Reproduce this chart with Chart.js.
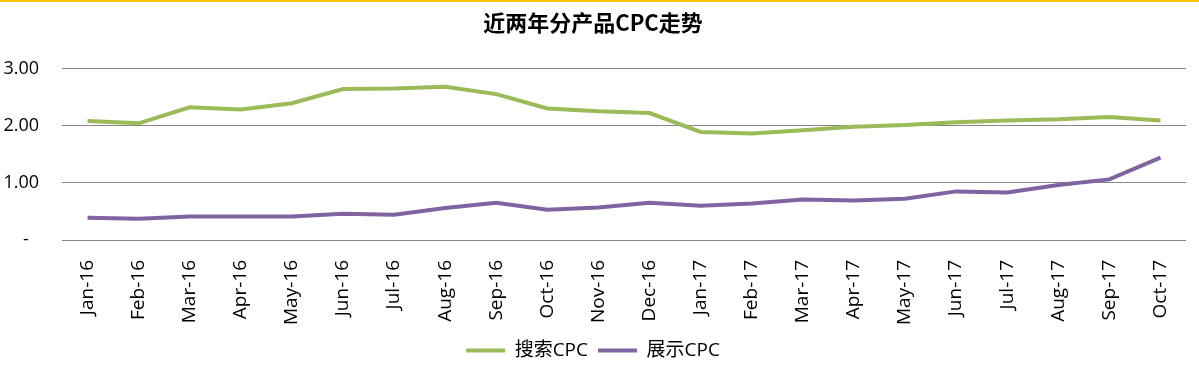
<!DOCTYPE html>
<html>
<head>
<meta charset="utf-8">
<script src="https://cdn.jsdelivr.net/npm/chart.js@4"></script>
<style>
  body { margin: 0; background: #fff; }
  canvas { display: block; }
</style>
</head>
<body>
<canvas id="grafico" width="1199" height="374"></canvas>
<script>
let meses = ["Jan-16", "Feb-16", "Mar-16", "Apr-16", "May-16", "Jun-16", "Jul-16", "Aug-16", "Sep-16", "Oct-16", "Nov-16", "Dec-16",
  "Jan-17", "Feb-17", "Mar-17", "Apr-17", "May-17", "Jun-17", "Jul-17", "Aug-17", "Sep-17", "Oct-17"];

let cpcBusca = [2.08, 2.04, 2.32, 2.28, 2.39, 2.64, 2.65, 2.68, 2.55, 2.30, 2.25, 2.22,
  1.89, 1.86, 1.92, 1.98, 2.01, 2.06, 2.09, 2.11, 2.15, 2.09];

let cpcExibicao = [0.39, 0.37, 0.41, 0.41, 0.41, 0.46, 0.44, 0.56, 0.65, 0.53, 0.57, 0.65,
  0.60, 0.64, 0.71, 0.69, 0.72, 0.85, 0.83, 0.96, 1.06, 1.44];

let ticksY = { 0: "-\u2007", 1: "1.00", 2: "2.00", 3: "3.00" };

// faixa amarela no topo + fundo branco
const faixaTopo = {
  id: "faixaTopo",
  beforeDraw(chart) {
    let ctx = chart.ctx;
    ctx.save();
    ctx.fillStyle = "#fff";
    ctx.fillRect(0, 0, chart.width, chart.height);
    ctx.fillStyle = "#FFC000";
    ctx.fillRect(0, 0, chart.width, 2);
    ctx.restore();
  },
};

let ctx = document.getElementById("grafico").getContext("2d");

new Chart(ctx, {
  type: "line",
  data: {
    labels: meses,
    datasets: [
      {
        label: "搜索CPC",
        data: cpcBusca,
        borderColor: "#9BBB59",
        backgroundColor: "#9BBB59",
        borderWidth: 4,
        pointRadius: 0,
        pointStyle: "line",
        tension: 0,
      },
      {
        label: "展示CPC",
        data: cpcExibicao,
        borderColor: "#8064A2",
        backgroundColor: "#8064A2",
        borderWidth: 4,
        pointRadius: 0,
        pointStyle: "line",
        tension: 0,
      },
    ],
  },
  options: {
    responsive: false,
    devicePixelRatio: 1,
    animation: false,
    layout: { padding: { left: 0, right: 13, top: 0, bottom: 4 } },
    plugins: {
      title: {
        display: true,
        text: "近两年分产品CPC走势",
        color: "#000",
        font: { family: "'Noto Sans CJK SC', 'Open Sans', sans-serif", size: 22, weight: "bold" },
        padding: { top: 9, bottom: 33 },
      },
      legend: {
        position: "bottom",
        labels: {
          usePointStyle: true,
          pointStyleWidth: 39,
          color: "#000",
          font: { family: "'Open Sans', 'Noto Sans CJK SC', sans-serif", size: 19 },
          padding: 10,
        },
      },
      tooltip: { enabled: false },
    },
    scales: {
      x: {
        offset: true,
        grid: { display: false },
        border: { display: false },
        ticks: {
          color: "#000",
          font: { family: "'Open Sans', sans-serif", size: 19 },
          minRotation: 90,
          maxRotation: 90,
          autoSkip: false,
          padding: 12,
        },
        afterFit: (s) => { s.height = 91; },
      },
      y: {
        min: 0,
        max: 3,
        border: { display: false },
        grid: { color: "#868686", lineWidth: 1, drawTicks: false },
        ticks: {
          stepSize: 1,
          color: "#000",
          font: { family: "'Open Sans', sans-serif", size: 18 },
          padding: 23,
          callback: (v) => ticksY[v],
        },
        afterFit: (s) => { s.width = 62; },
      },
    },
  },
  plugins: [faixaTopo],
});
</script>
</body>
</html>
